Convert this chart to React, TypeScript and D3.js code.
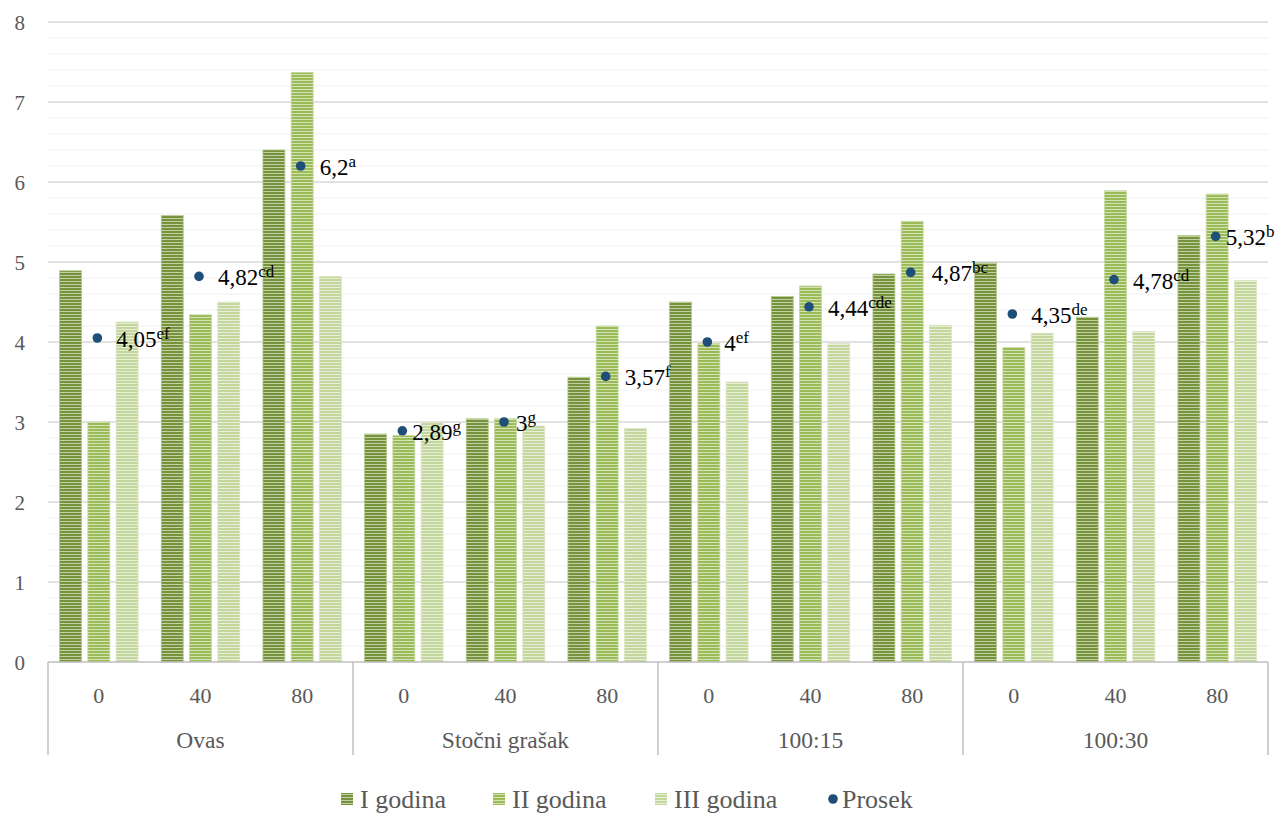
import React from 'react';
import * as d3 from 'd3';

// groups and doses along the x axis
const groups = ['Ovas', 'Stočni grašak', '100:15', '100:30'];
const doses = ['0', '40', '80'];

// series values, one per group x dose
const godinaI = [4.89, 5.58, 6.4, 2.85, 3.04, 3.56, 4.5, 4.57, 4.85, 4.99, 4.31, 5.33];
const godinaII = [3.0, 4.34, 7.37, 2.83, 3.04, 4.2, 3.98, 4.7, 5.51, 3.93, 5.89, 5.85];
const godinaIII = [4.25, 4.5, 4.82, 2.99, 2.95, 2.92, 3.5, 3.98, 4.21, 4.11, 4.13, 4.77];
const prosek = [4.05, 4.82, 6.2, 2.89, 3, 3.57, 4, 4.44, 4.87, 4.35, 4.78, 5.32];
const prosekText = ['4,05', '4,82', '6,2', '2,89', '3', '3,57', '4', '4,44', '4,87', '4,35', '4,78', '5,32'];
const prosekLetters = ['ef', 'cd', 'a', 'g', 'g', 'f', 'ef', 'cde', 'bc', 'de', 'cd', 'b'];

const yTicks = [0, 1, 2, 3, 4, 5, 6, 7, 8];

const seriesNames = ['I godina', 'II godina', 'III godina'];
const seriesValues = [godinaI, godinaII, godinaIII];

export default function App() {
  const width = 1283;
  const height = 816;
  const left = 48;
  const right = 1268;
  const top = 22;
  const bottom = 662;

  const font = "'Liberation Serif', 'Times New Roman', 'Liberation Sans', sans-serif";
  const grey = '#595959';

  const cats = groups.flatMap(g => doses.map(d => `${g}|${d}`));

  const x0 = d3.scaleBand<string>().domain(cats).range([left, right]).padding(0);
  const x1 = d3
    .scaleBand<string>()
    .domain(seriesNames)
    .range([0, x0.bandwidth()])
    .paddingInner(0.223)
    .paddingOuter(0.41);
  const y = d3.scaleLinear().domain([0, 8]).range([bottom, top]);

  const minorTicks = d3.range(0, 8.001, 0.2).filter(v => Math.abs(v - Math.round(v)) > 0.01);

  const fills = [
    { main: '#76923c', light: '#c2d1a3', edge: '#b3c58d' },
    { main: '#9bbb59', light: '#d4e3b6', edge: '#c6d9a0' },
    { main: '#c3d69b', light: '#e8efd9', edge: '#dbe6c4' },
  ];

  // small nudges so labels sit where the original places them
  const labelDx = [19, 19, 19, 10, 12, 19, 17, 19, 21, 19, 19, 10];

  const groupW = x0.bandwidth() * doses.length;

  const txt = (size: number, color: string) => ({ fontFamily: font, fontSize: size, fill: color });

  const legendY = 799;
  const legendItems = [
    { label: 'I godina', x: 341, kind: 0 },
    { label: 'II godina', x: 493, kind: 1 },
    { label: 'III godina', x: 655, kind: 2 },
    { label: 'Prosek', x: 828, kind: 3 },
  ];

  return (
    <svg width={width} height={height} style={{ display: 'block', position: 'absolute', left: 0, top: 0, fontFamily: font }}>
      <defs>
        {fills.map((f, i) => (
          <pattern key={i} id={`stripe${i}`} width={4} height={3} patternUnits="userSpaceOnUse">
            <rect width={4} height={3} fill={f.light} />
            <rect width={4} height={2} fill={f.main} />
          </pattern>
        ))}
      </defs>
      <rect width={width} height={height} fill="#fff" />

      {/* grid */}
      {minorTicks.map(t => (
        <line key={`m${t}`} x1={left} x2={right} y1={y(t)} y2={y(t)} stroke="#f0f0f0" strokeWidth={1} />
      ))}
      {yTicks.filter(t => t > 0).map(t => (
        <line key={`g${t}`} x1={left} x2={right} y1={y(t)} y2={y(t)} stroke="#d9d9d9" strokeWidth={1.3} />
      ))}

      {/* y tick labels */}
      {yTicks.map(t => (
        <text key={`t${t}`} x={25} y={y(t)} dy="0.36em" textAnchor="end" style={txt(21, grey)}>
          {t}
        </text>
      ))}

      {/* bars */}
      {seriesValues.map((vals, si) =>
        vals.map((v, ci) => (
          <rect
            key={`b${si}-${ci}`}
            x={(x0(cats[ci]) ?? 0) + (x1(seriesNames[si]) ?? 0)}
            y={y(v)}
            width={x1.bandwidth()}
            height={y(0) - y(v)}
            fill={`url(#stripe${si})`}
            stroke={fills[si].edge}
            strokeWidth={0.8}
          />
        ))
      )}

      {/* x axis */}
      <line x1={left} x2={right} y1={bottom} y2={bottom} stroke="#bfbfbf" strokeWidth={1.5} />
      {d3.range(groups.length + 1).map(i => (
        <line
          key={`s${i}`}
          x1={left + i * groupW}
          x2={left + i * groupW}
          y1={bottom}
          y2={755}
          stroke="#bfbfbf"
          strokeWidth={1.5}
        />
      ))}
      {cats.map(c => (
        <text
          key={`xl${c}`}
          x={(x0(c) ?? 0) + x0.bandwidth() / 2}
          y={695}
          dy="0.36em"
          textAnchor="middle"
          style={txt(22, grey)}
        >
          {c.split('|')[1]}
        </text>
      ))}
      {groups.map((g, i) => (
        <text
          key={`gl${g}`}
          x={left + i * groupW + groupW / 2}
          y={740}
          dy="0.36em"
          textAnchor="middle"
          style={txt(23.5, grey)}
        >
          {g}
        </text>
      ))}

      {/* Prosek points and labels */}
      {prosek.map((v, i) => {
        const cx = (x0(cats[i]) ?? 0) + x0.bandwidth() / 2 - 1.5;
        const cy = y(v);
        return (
          <g key={`p${i}`}>
            <circle cx={cx} cy={cy} r={4.8} fill="#1f4e79" />
            <text x={cx + labelDx[i]} y={cy + 9} style={txt(23, '#000')}>
              {prosekText[i]}
              <tspan style={{ fontSize: 17 }} dy={-8}>
                {prosekLetters[i]}
              </tspan>
            </text>
          </g>
        );
      })}

      {/* legend */}
      {legendItems.map(l => (
        <g key={l.label}>
          {l.kind < 3 ? (
            <rect x={l.x} y={legendY - 6} width={12} height={12} fill={`url(#stripe${l.kind})`} />
          ) : (
            <circle cx={l.x + 5} cy={legendY} r={4.8} fill="#1f4e79" />
          )}
          <text x={l.x + (l.kind < 3 ? 19 : 14)} y={legendY} dy="0.36em" style={txt(26, grey)}>
            {l.label}
          </text>
        </g>
      ))}
    </svg>
  );
}
